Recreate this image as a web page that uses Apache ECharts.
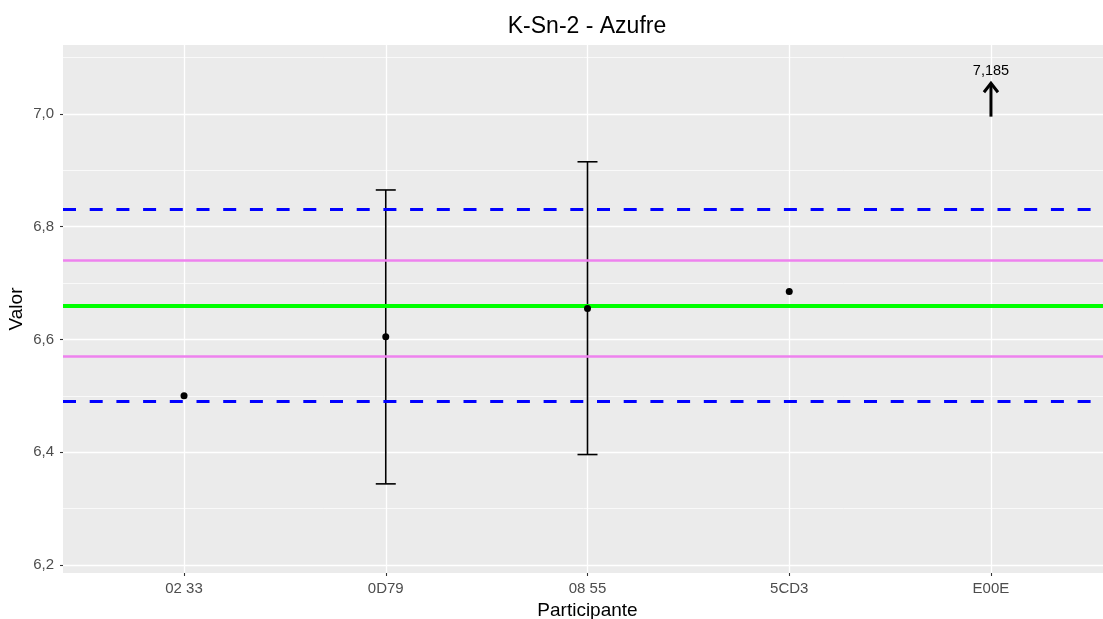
<!DOCTYPE html>
<html>
<head>
<meta charset="utf-8">
<script src="https://cdn.jsdelivr.net/npm/echarts@6/dist/echarts.min.js"></script>
<style>html,body{margin:0;padding:0;background:#fff}#c{width:1103px;height:619px}</style>
</head>
<body>
<div id="c"></div>
<script>
const categories = ['02 33', '0D79', '08 55', '5CD3', 'E00E'];
const values = [6.500, 6.605, 6.655, 6.685, 7.185];
const errLow = [null, 6.344, 6.396, null, null];
const errHigh = [null, 6.865, 6.915, null, null];
const assignedValue = 6.655;
const innerLimits = [6.572, 6.738];
const outerLimits = [6.486, 6.825];
const yTicks = [6.2, 6.4, 6.6, 6.8, 7.0];
const yMinorTicks = [6.3, 6.5, 6.7, 6.9, 7.1];
const yMin = 6.186, yMax = 7.122;

const font = 'Liberation Sans, Arial, sans-serif';
const xPos = categories.map((_, i) => i + 1);
const inRange = values.map((v, i) => v <= yMax ? [i + 1, v] : null).filter(Boolean);
const outRange = values.map((v, i) => v > yMax ? [i + 1, v] : null).filter(Boolean);
const errData = values.map((v, i) => errLow[i] != null ? [i + 1, errLow[i], errHigh[i]] : null).filter(Boolean);

const chart = echarts.init(document.getElementById('c'), null, {renderer: 'canvas'});
chart.setOption({
  animation: false,
  backgroundColor: '#ffffff',
  title: {
    text: 'K-Sn-2 - Azufre', left: 582, top: 10, textAlign: 'center',
    textStyle: {fontFamily: font, fontSize: 23, fontWeight: 'normal', color: '#000'}
  },
  grid: {left: 63, top: 45, right: -9, bottom: 46, show: true, backgroundColor: '#EBEBEB', borderWidth: 0,
    outerBoundsMode: 'none', containLabel: false},
  xAxis: {
    type: 'value', min: 0.4, max: 5.6,
    name: 'Participante', nameLocation: 'middle', nameGap: 28, nameMoveOverlap: false,
    nameTextStyle: {fontFamily: font, fontSize: 19, color: '#000'},
    axisLine: {show: false},
    axisTick: {show: true, length: 3, customValues: xPos, lineStyle: {color: '#333', width: 1.1}},
    axisLabel: {customValues: xPos, formatter: v => categories[Math.round(v) - 1], margin: 8,
      fontFamily: font, fontSize: 15, color: '#4D4D4D'},
    splitLine: {show: true, lineStyle: {color: '#fff', width: 1.3}}
  },
  yAxis: [{
    type: 'value', min: yMin, max: yMax,
    name: 'Valor', nameLocation: 'middle', nameGap: 37, nameRotate: 90, nameMoveOverlap: false,
    nameTextStyle: {fontFamily: font, fontSize: 19, color: '#000'},
    axisLine: {show: false},
    axisTick: {show: true, length: 3, customValues: yTicks, lineStyle: {color: '#333', width: 1.1}},
    axisLabel: {customValues: yTicks, formatter: v => v.toFixed(1).replace('.', ','), margin: 9,
      fontFamily: font, fontSize: 15, color: '#4D4D4D'},
    splitLine: {show: true, lineStyle: {color: '#fff', width: 1.3}},
    z: 2
  }, {
    type: 'value', min: yMin, max: yMax, position: 'left',
    axisLine: {show: false},
    axisTick: {show: false, customValues: yMinorTicks},
    axisLabel: {show: false, customValues: yMinorTicks},
    splitLine: {show: true, lineStyle: {color: '#fff', width: 0.7}},
    z: 1
  }],
  series: [
    {
      type: 'line', data: [], silent: true, z: 3,
      markLine: {
        silent: true, symbol: 'none', label: {show: false}, animation: false,
        data: [
          {yAxis: innerLimits[0], lineStyle: {color: '#EE82EE', width: 2.5, type: 'solid'}},
          {yAxis: innerLimits[1], lineStyle: {color: '#EE82EE', width: 2.5, type: 'solid'}},
          {yAxis: assignedValue, lineStyle: {color: '#00FF00', width: 4, type: 'solid'}},
          {yAxis: outerLimits[0], lineStyle: {color: '#0000FF', width: 3.2, type: [13, 13.7]}},
          {yAxis: outerLimits[1], lineStyle: {color: '#0000FF', width: 3.2, type: [13, 13.7]}}
        ]
      }
    },
    {
      type: 'custom', z: 4, data: errData, clip: false,
      renderItem: (params, api) => {
        const x = api.value(0);
        const lo = api.coord([x, api.value(1)]);
        const hi = api.coord([x, api.value(2)]);
        const hw = 10;
        const st = {stroke: '#000', lineWidth: 1.6};
        return {type: 'group', children: [
          {type: 'line', shape: {x1: lo[0], y1: lo[1], x2: hi[0], y2: hi[1]}, style: st},
          {type: 'line', shape: {x1: lo[0] - hw, y1: lo[1], x2: lo[0] + hw, y2: lo[1]}, style: st},
          {type: 'line', shape: {x1: hi[0] - hw, y1: hi[1], x2: hi[0] + hw, y2: hi[1]}, style: st}
        ]};
      }
    },
    {
      type: 'scatter', z: 5, data: inRange, symbol: 'circle', symbolSize: 7,
      itemStyle: {color: '#000', opacity: 1}
    },
    {
      type: 'custom', z: 5, data: outRange, clip: false,
      renderItem: (params, api) => {
        const x = api.value(0);
        const base = api.coord([x, 6.995]);
        const tip = api.coord([x, 7.056]);
        const st = {stroke: '#000', lineWidth: 3, fill: null};
        return {type: 'group', children: [
          {type: 'line', shape: {x1: base[0], y1: base[1], x2: tip[0], y2: tip[1] + 1}, style: st},
          {type: 'polyline', shape: {points: [[tip[0] - 7, tip[1] + 10], [tip[0], tip[1] + 1], [tip[0] + 7, tip[1] + 10]]}, style: st},
          {type: 'text', style: {x: tip[0], y: tip[1] - 11, text: String(api.value(1)).replace('.', ','),
            align: 'center', verticalAlign: 'middle', fontFamily: font, fontSize: 14.5, fill: '#000'}}
        ]};
      }
    }
  ]
});
</script>
</body>
</html>
